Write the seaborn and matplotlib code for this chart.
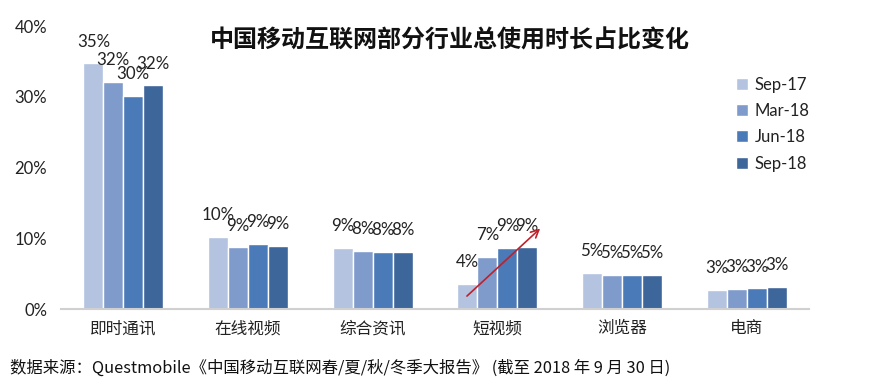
import matplotlib
matplotlib.use("Agg")
import matplotlib.pyplot as plt
import seaborn as sns
import pandas as pd

categories = ["即时通讯", "在线视频", "综合资讯", "短视频", "浏览器", "电商"]
series = ["Sep-17", "Mar-18", "Jun-18", "Sep-18"]
sep17 = [0.347, 0.102, 0.086, 0.036, 0.051, 0.027]
mar18 = [0.321, 0.087, 0.082, 0.074, 0.048, 0.028]
jun18 = [0.301, 0.092, 0.081, 0.086, 0.048, 0.029]
sep18 = [0.316, 0.089, 0.081, 0.087, 0.048, 0.031]
yticks = [0, 0.1, 0.2, 0.3, 0.4]
title = "中国移动互联网部分行业总使用时长占比变化"
footnote = "数据来源：Questmobile《中国移动互联网春/夏/秋/冬季大报告》 (截至 2018 年 9 月 30 日)"

colors = ["#B4C3E0", "#7F9BCB", "#4A7AB7", "#3D669B"]

rows = []
for s, vals in zip(series, [sep17, mar18, jun18, sep18]):
    for c, v in zip(categories, vals):
        rows.append({"cat": c, "series": s, "value": v})
df = pd.DataFrame(rows)

sns.set_theme(style="white")
plt.rcParams["font.family"] = ["Lato", "Noto Sans CJK SC", "DejaVu Sans"]

fig = plt.figure(figsize=(8.87, 3.91), dpi=100)
ax = fig.add_axes([0.0688, 0.2097, 0.8432, 0.7238])

sns.barplot(data=df, x="cat", y="value", hue="series", order=categories,
            hue_order=series, palette=colors, width=0.64, saturation=1,
            ax=ax, legend=True)

for cont in ax.containers:
    ax.bar_label(cont, labels=[f"{v*100:.0f}%" for v in cont.datavalues],
                 padding=10, fontsize=12.2, color="#222222")

ax.set_ylim(0, 0.40)
ax.set_yticks(yticks)
ax.set_yticklabels([f"{int(round(t*100))}%" for t in yticks], fontsize=12, color="#222222")
ax.set_xlim(-0.5, len(categories) - 0.5)
ax.tick_params(axis="x", labelsize=12, colors="#222222", length=0, pad=8)
ax.tick_params(axis="y", length=0, pad=10)
ax.set_xlabel("")
ax.set_ylabel("")
for side in ["top", "right", "left"]:
    ax.spines[side].set_visible(False)
ax.spines["bottom"].set_color("#D0D0D0")
ax.spines["bottom"].set_linewidth(1.5)

ax.annotate("", xy=(3.36, 0.1164), xytext=(2.74, 0.0156),
            arrowprops=dict(arrowstyle="->", color="#C0202A", lw=1.2, mutation_scale=14))

leg = ax.legend(loc="upper left", bbox_to_anchor=(0.893, 0.845), frameon=False,
                fontsize=12, handlelength=0.75, handleheight=0.75,
                labelspacing=0.62, handletextpad=0.4, borderaxespad=0)
for t in leg.get_texts():
    t.set_color("#222222")

fig.text(0.507, 0.897, title, ha="center", va="center", fontsize=17.3,
         fontweight="bold", family=["Noto Sans CJK SC", "DejaVu Sans"], color="#111111")
fig.text(0.011, 0.058, footnote, ha="left", va="center", fontsize=11.8,
         family=["Noto Sans CJK SC", "DejaVu Sans"], color="#111111")

fig.savefig("out.png", dpi=100)
